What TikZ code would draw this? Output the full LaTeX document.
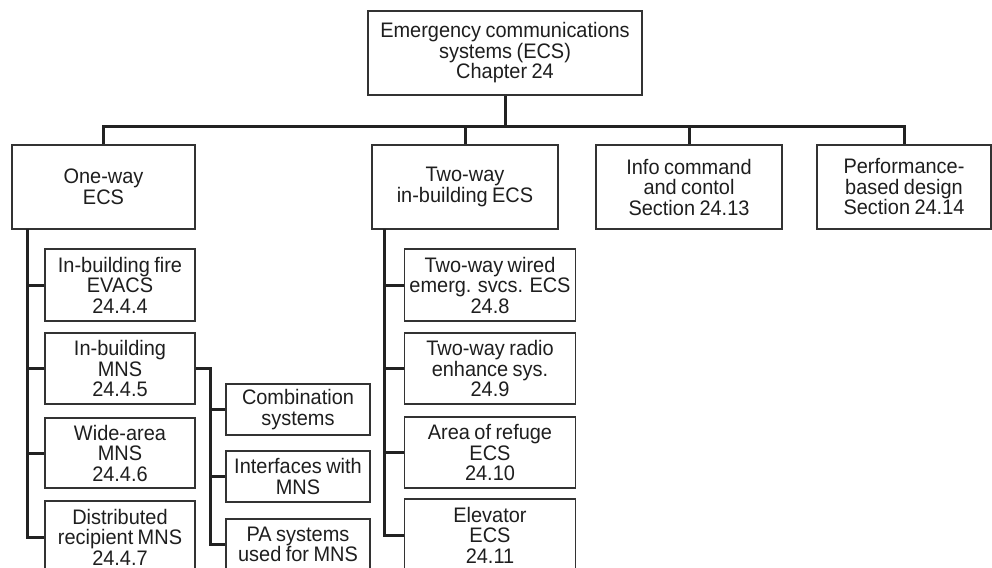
\documentclass[tikz,border=0pt]{standalone}
\usepackage{fontspec}
\setmainfont{Liberation Sans}[FakeStretch=0.95,WordSpace=0.8]
\definecolor{boxc}{HTML}{333333}
\definecolor{linec}{HTML}{222222}
\definecolor{txt}{HTML}{1E1E1E}
\begin{document}
\begin{tikzpicture}[x=1pt,y=-1pt,
  box/.style={draw=boxc, line width=1.5pt, align=center, inner sep=0pt,
    font=\fontsize{21}{20.5}\selectfont, text=txt},
  link/.style={draw=linec, line width=3pt}]
\useasboundingbox (0,0) rectangle (992,567);
\clip (0,0) rectangle (992,567);
% top
\node[box, minimum width=274pt, minimum height=84pt] (top) at (505,53)
  {Emergency communications\\systems (ECS)\\Chapter 24};
% level 1
\node[box, minimum width=183pt, minimum height=84pt] (one) at (103.5,187) {One-way\\ECS};
\node[box, minimum width=186pt, minimum height=84pt] (two) at (465,187) {Two-way\\in-building ECS};
\node[box, minimum width=186pt, minimum height=84pt] (info) at (689,187) {Info command\\and contol\\Section 24.13};
\node[box, minimum width=174pt, minimum height=84pt] (perf) at (904,187) {Performance-\\based design\\Section 24.14};
% one-way children
\node[box, minimum width=150pt, minimum height=72pt] (a1) at (120,285) {In-building fire\\EVACS\\24.4.4};
\node[box, minimum width=150pt, minimum height=71pt] (a2) at (120,368.5) {In-building\\MNS\\24.4.5};
\node[box, minimum width=150pt, minimum height=70pt] (a3) at (120,453) {Wide-area\\MNS\\24.4.6};
\node[box, minimum width=150pt, minimum height=72pt] (a4) at (120,537) {Distributed\\recipient MNS\\24.4.7};
% MNS children
\node[box, minimum width=144pt, minimum height=51pt] (c1) at (298,409.5) {Combination\\systems};
\node[box, minimum width=144pt, minimum height=51pt] (c2) at (298,476.5) {Interfaces with\\MNS};
\node[box, minimum width=144pt, minimum height=51pt] (c3) at (298,544.5) {PA systems\\used for MNS};
% two-way children
\node[box, minimum width=171pt, minimum height=72pt] (b1) at (490,285) {Two-way wired\\emerg. svcs. ECS\\24.8};
\node[box, minimum width=171pt, minimum height=71pt] (b2) at (490,368.5) {Two-way radio\\enhance sys.\\24.9};
\node[box, minimum width=171pt, minimum height=71pt] (b3) at (490,452.5) {Area of refuge\\ECS\\24.10};
\node[box, minimum width=171pt, minimum height=72pt] (b4) at (490,535) {Elevator\\ECS\\24.11};
% connectors
\coordinate (bus) at (0,126);
\draw[link] (top.south) -- (top.south |- bus);
\draw[link] (one.north) -- (one.north |- bus) -- (perf.north |- bus) -- (perf.north);
\draw[link] (two.north) -- (two.north |- bus);
\draw[link] (info.north) -- (info.north |- bus);
% one-way spine
\coordinate (ls) at (27,229);
\draw[link] (ls) |- (a4.west);
\draw[link] (a1.west) -- (a1.west -| ls);
\draw[link] (a2.west) -- (a2.west -| ls);
\draw[link] (a3.west) -- (a3.west -| ls);
% MNS spine
\coordinate (ms) at (210,0);
\draw[link] (a2.east) -- (a2.east -| ms) |- (c3.west);
\draw[link] (c1.west) -- (c1.west -| ms);
\draw[link] (c2.west) -- (c2.west -| ms);
% two-way spine
\coordinate (ts) at (384,229);
\draw[link] (ts) |- (b4.west);
\draw[link] (b1.west) -- (b1.west -| ts);
\draw[link] (b2.west) -- (b2.west -| ts);
\draw[link] (b3.west) -- (b3.west -| ts);
\end{tikzpicture}
\end{document}
